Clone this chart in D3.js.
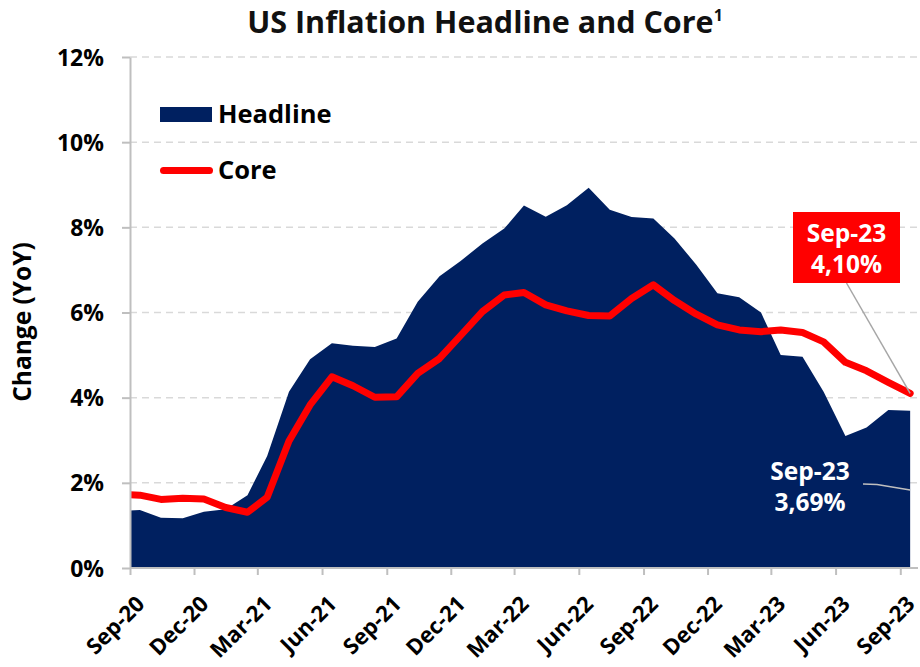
<!DOCTYPE html>
<html>
<head>
<meta charset="utf-8">
<script src="https://cdn.jsdelivr.net/npm/d3@7"></script>
<style>
  body { margin: 0; background: #fff; }
  text { font-family: "Open Sans", "Noto Sans", sans-serif; font-weight: 700; }
</style>
</head>
<body>
<svg id="chart" width="920" height="667"></svg>
<script>
// Monthly YoY change, % (first month sits just left of the axis and is clipped)
const months = [
  "2020-08","2020-09","2020-10","2020-11","2020-12",
  "2021-01","2021-02","2021-03","2021-04","2021-05","2021-06","2021-07","2021-08","2021-09","2021-10","2021-11","2021-12",
  "2022-01","2022-02","2022-03","2022-04","2022-05","2022-06","2022-07","2022-08","2022-09","2022-10","2022-11","2022-12",
  "2023-01","2023-02","2023-03","2023-04","2023-05","2023-06","2023-07","2023-08","2023-09"
];
const headline = [
  1.34, 1.36, 1.18, 1.17, 1.32,
  1.38, 1.71, 2.63, 4.14, 4.90, 5.28, 5.22, 5.19, 5.39, 6.25, 6.85, 7.21,
  7.62, 7.97, 8.51, 8.25, 8.52, 8.93, 8.41, 8.24, 8.21, 7.74, 7.12, 6.45,
  6.36, 6.00, 5.00, 4.96, 4.14, 3.10, 3.30, 3.71, 3.69
];
const core = [
  1.73, 1.71, 1.61, 1.64, 1.62,
  1.42, 1.31, 1.66, 2.98, 3.83, 4.49, 4.28, 4.01, 4.02, 4.57, 4.92, 5.46,
  6.02, 6.41, 6.47, 6.18, 6.04, 5.93, 5.92, 6.33, 6.65, 6.28, 5.96, 5.71,
  5.59, 5.55, 5.59, 5.53, 5.31, 4.83, 4.63, 4.36, 4.10
];
const seriesNames = ["Headline", "Core"];
const yTicks = [0, 2, 4, 6, 8, 10, 12];
const xTickMonths = ["2020-09","2020-12","2021-03","2021-06","2021-09","2021-12",
  "2022-03","2022-06","2022-09","2022-12","2023-03","2023-06","2023-09"];
const titleText = "US Inflation Headline and Core";
const titleNote = "1";
const yLabel = "Change (YoY)";

const parseMonth = d3.utcParse("%Y-%m");
const monthLabel = d3.utcFormat("%b-%y");
const pct = d3.formatLocale({ decimal: ",", thousands: ".", grouping: [3], currency: ["", ""] }).format(".2f");

// Observations are plotted mid-month on a date axis
const pointDate = m => d3.utcDay.offset(parseMonth(m), 14);
const rows = months.map((m, i) => ({ m, date: pointDate(m), h: headline[i], c: core[i] }));

const plot = { left: 130, right: 918, top: 57, bottom: 568 };
const x = d3.scaleUtc()
  .domain([parseMonth(xTickMonths[0]), parseMonth(xTickMonths[xTickMonths.length - 1])])
  .range([plot.left, 900.3]);
const y = d3.scaleLinear().domain([0, 12]).range([plot.bottom, plot.top]);

const navy = "#002060", red = "#ff0000", axisGrey = "#bfbfbf";
const svg = d3.select("#chart");

svg.append("defs").append("clipPath").attr("id", "plotClip")
  .append("rect").attr("x", plot.left).attr("y", 0)
  .attr("width", plot.right - plot.left).attr("height", 667);

// Title
const title = svg.append("text")
  .attr("x", 485).attr("y", 33).attr("text-anchor", "middle")
  .attr("font-size", 30.5).attr("fill", "#111");
title.append("tspan").text(titleText);
title.append("tspan").attr("font-size", 16).attr("dy", -12).text(titleNote);

// Dashed gridlines
svg.append("g").selectAll("line")
  .data(yTicks.filter(d => d > 0))
  .join("line")
  .attr("x1", plot.left).attr("x2", plot.right)
  .attr("y1", d => y(d)).attr("y2", d => y(d))
  .attr("stroke", "#d9d9d9").attr("stroke-width", 1.5)
  .attr("stroke-dasharray", "7,5");

// Headline area
const plotG = svg.append("g").attr("clip-path", "url(#plotClip)");
plotG.append("path")
  .datum(rows)
  .attr("fill", navy)
  .attr("d", d3.area().x(d => x(d.date)).y0(y(0)).y1(d => y(d.h)));

// Y axis
const yAxis = svg.append("g")
  .attr("transform", `translate(${plot.left},0)`)
  .call(d3.axisLeft(y).tickValues(yTicks).tickSize(8).tickSizeOuter(0).tickPadding(18)
    .tickFormat(d => d + "%"));
yAxis.select(".domain").attr("stroke", axisGrey).attr("stroke-width", 2);
yAxis.selectAll(".tick line").attr("stroke", axisGrey).attr("stroke-width", 2);
yAxis.selectAll(".tick text").attr("font-size", 23).attr("fill", "#000")
  .attr("font-family", null).attr("dy", "0.35em");

// X axis
const xAxis = svg.append("g")
  .attr("transform", `translate(0,${plot.bottom})`)
  .call(d3.axisBottom(x).tickValues(xTickMonths.map(parseMonth)).tickSize(7).tickSizeOuter(0)
    .tickFormat(monthLabel));
xAxis.select(".domain").remove();
xAxis.append("line").attr("x1", plot.left).attr("x2", plot.right)
  .attr("stroke", axisGrey).attr("stroke-width", 2);
xAxis.selectAll(".tick line").attr("stroke", axisGrey).attr("stroke-width", 2);
xAxis.selectAll(".tick text")
  .attr("font-size", 22).attr("fill", "#000").attr("font-family", null)
  .attr("text-anchor", "end").attr("y", 0).attr("dy", "0.35em")
  .attr("transform", "translate(10,32) rotate(-45)");

// Y axis title
svg.append("text")
  .attr("transform", "translate(31,322) rotate(-90)")
  .attr("text-anchor", "middle").attr("font-size", 24.5).attr("fill", "#000")
  .text(yLabel);

// Core line
plotG.append("path")
  .datum(rows)
  .attr("fill", "none").attr("stroke", red).attr("stroke-width", 7)
  .attr("stroke-linejoin", "round").attr("stroke-linecap", "round")
  .attr("d", d3.line().x(d => x(d.date)).y(d => y(d.c)));

// Legend
const legend = svg.append("g");
legend.append("rect").attr("x", 160).attr("y", 107).attr("width", 52).attr("height", 15).attr("fill", navy);
legend.append("text").attr("x", 218).attr("y", 123).attr("font-size", 25.5).attr("fill", "#000").text(seriesNames[0]);
legend.append("line").attr("x1", 163.5).attr("x2", 209.5).attr("y1", 170.5).attr("y2", 170.5)
  .attr("stroke", red).attr("stroke-width", 7).attr("stroke-linecap", "round");
legend.append("text").attr("x", 218).attr("y", 178.5).attr("font-size", 25.5).attr("fill", "#000").text(seriesNames[1]);

// Latest-value callouts
const last = rows[rows.length - 1];
const lastX = x(last.date);

// Core callout
svg.append("line")
  .attr("x1", 846.5).attr("y1", 283).attr("x2", lastX).attr("y2", y(last.c))
  .attr("stroke", "#a6a6a6").attr("stroke-width", 1.5);
svg.append("rect").attr("x", 793).attr("y", 212).attr("width", 107).attr("height", 71).attr("fill", red);
const coreNote = svg.append("text").attr("text-anchor", "middle").attr("font-size", 24.5).attr("fill", "#fff");
coreNote.append("tspan").attr("x", 846.5).attr("y", 242).text(monthLabel(parseMonth(last.m)));
coreNote.append("tspan").attr("x", 846.5).attr("y", 273).text(pct(last.c) + "%");

// Headline callout
svg.append("path")
  .attr("d", `M863,484 L877,484.5 L${lastX},490`)
  .attr("fill", "none").attr("stroke", "#bfbfbf").attr("stroke-width", 1.5);
const headNote = svg.append("text").attr("text-anchor", "middle").attr("font-size", 24.5).attr("fill", "#fff");
headNote.append("tspan").attr("x", 810).attr("y", 480).text(monthLabel(parseMonth(last.m)));
headNote.append("tspan").attr("x", 810).attr("y", 511).text(pct(last.h) + "%");
</script>
</body>
</html>
